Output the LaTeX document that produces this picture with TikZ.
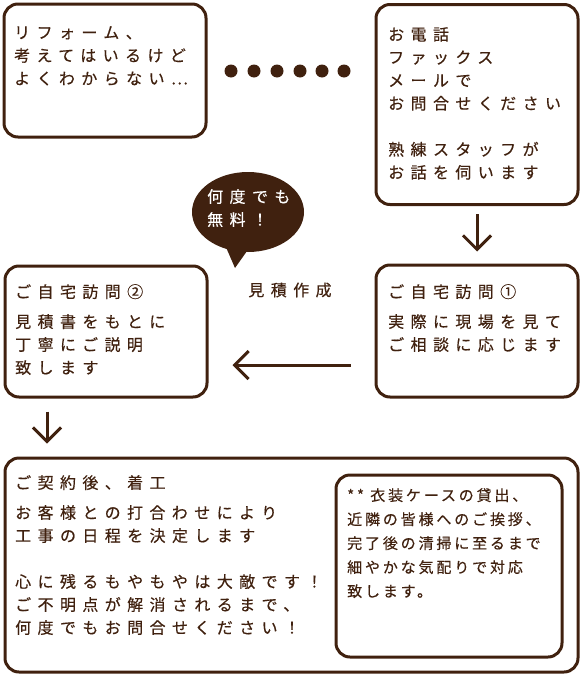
\documentclass[tikz,border=0pt]{standalone}
\usepackage{fontspec}
\usetikzlibrary{arrows.meta,shapes.geometric}
\newfontfamily\jp[LetterSpace=40,FakeBold=0.4]{Noto Sans CJK JP}
\newfontfamily\jpn[LetterSpace=19,FakeBold=0.4]{Noto Sans CJK JP}
\definecolor{brn}{HTML}{40210F}
\tikzset{
  box/.style={draw=brn, line width=3pt, rounded corners=14pt, anchor=north west, inner sep=0pt},
  txt/.style={anchor=north west, inner sep=0pt, align=left, text=brn, font=\jp\fontsize{16}{23}\selectfont},
  smalltxt/.style={anchor=north west, inner sep=0pt, align=left, text=brn, font=\jpn\fontsize{15}{24}\selectfont},
  arr/.style={draw=brn, line width=3pt, -{Straight Barb[length=14pt,width=28pt]}},
  dot/.style={circle, fill=brn, minimum size=13pt, inner sep=0pt}
}
\begin{document}
\begin{tikzpicture}[x=1pt,y=-1pt]
\useasboundingbox (0,0) rectangle (580,675);
% boxes
\node[box, minimum width=202pt, minimum height=133pt] (b1) at (2.5,2.5) {};
\node[box, minimum width=202pt, minimum height=200pt] (b2) at (374.5,3) {};
\node[box, minimum width=202pt, minimum height=132pt] (b3) at (374.5,263.5) {};
\node[box, minimum width=202pt, minimum height=131pt] (b4) at (3.5,264.5) {};
\node[box, minimum width=573pt, minimum height=214pt] (b5) at (3.5,456.5) {};
\node[box, minimum width=226pt, minimum height=182pt] (b6) at (334.5,473.5) {};
% dots
\foreach \i/\x in {1/231,2/254,3/277,4/300,5/322,6/344}
  \node[dot] (d\i) at (\x,71) {};
% texts
\node[txt] (t1) at (14,26) {リフォーム、\\考えてはいるけど\\よくわからない⋯};
\node[txt] (t2) at (388,27) {お電話\\ファックス\\メールで\\お問合せください\\[23pt]熟練スタッフが\\お話を伺います};
\node[txt] (t3a) at (388,284) {ご自宅訪問①};
\node[txt] (t3b) at (388,314) {実際に現場を見て\\ご相談に応じます};
\node[txt] (t4a) at (15,284) {ご自宅訪問②};
\node[txt] (t4b) at (15,314) {見積書をもとに\\丁寧にご説明\\致します};
\node[txt] (t5a) at (15,475) {ご契約後、着工};
\node[txt] (t5b) at (15,505) {お客様との打合わせにより\\工事の日程を決定します\\[23pt]心に残るもやもやは大敵です！\\ご不明点が解消されるまで、\\何度でもお問合せください！};
\node[smalltxt] (t6) at (347,488) {** 衣装ケースの貸出、\\近隣の皆様へのご挨拶、\\完了後の清掃に至るまで\\細やかな気配りで対応\\致します。};
% estimate label
\node[text=brn, font=\jp\fontsize{16}{23}\selectfont, inner sep=0pt] (est) at (290,290) {見積作成};
% speech bubble
\fill[brn] (248,212) ellipse [x radius=56, y radius=40];
\fill[brn] (222,238) -- (235,268) -- (252,244) -- cycle;
\node[txt, text=white] (bub) at (207,189) {何度でも\\無料！};
% connectors
\draw[arr, shorten <=8pt, shorten >=12pt] (b2.south) -- (b3.north);
\coordinate (a1) at (b3.west |- 0,365);
\coordinate (a2) at (b4.east |- 0,365);
\draw[arr, shorten <=24pt, shorten >=24pt] (a1) -- (a2);
\coordinate (c1) at (47,0 |- b4.south);
\coordinate (c2) at (47,0 |- b5.north);
\draw[arr, shorten <=13pt, shorten >=13pt] (c1) -- (c2);
\end{tikzpicture}
\end{document}
